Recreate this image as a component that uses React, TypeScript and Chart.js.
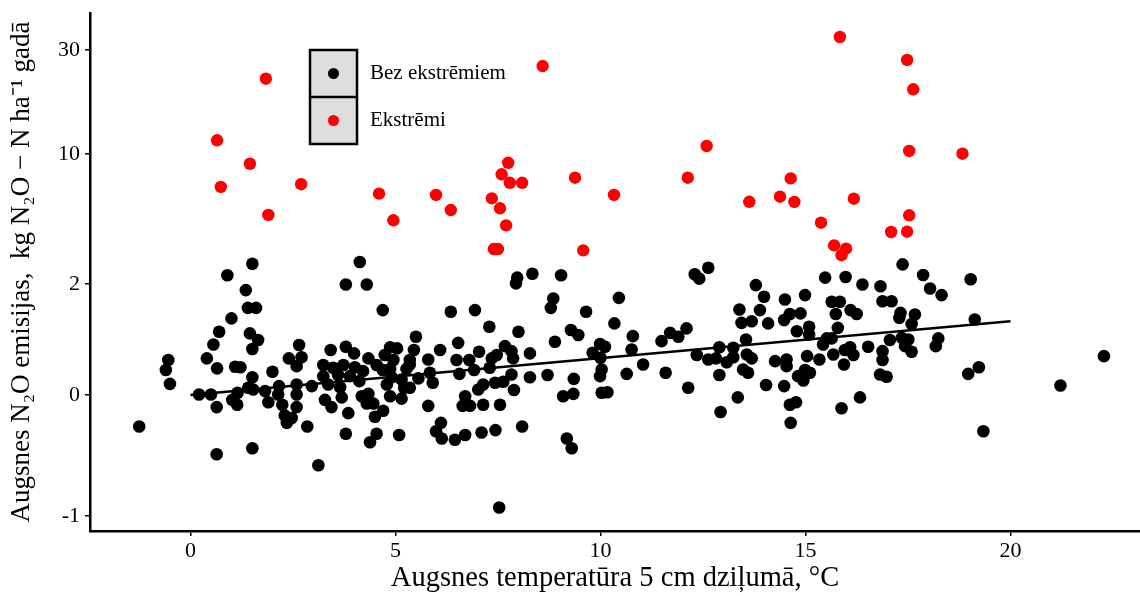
import React, { useEffect, useRef } from "react";
import { Chart, registerables } from "chart.js";

Chart.register(...registerables);

const FONT = '"Liberation Serif", "Times New Roman", serif';

// Soil temperature at 5 cm (°C) for regular observations
const BLACK_TEMP = [
  1.51, 0.90, 1.35, 1.40, 1.60, 1.00, 0.70, 1.45, 1.65, 0.56, 1.51, 2.65, 2.40, 2.71, 2.59, 0.40, -0.54, -0.60, 0.65, 1.09,
  1.22, 2.00, -0.50, 1.51, 0.21, 0.50, 1.15, 1.41, 1.53, 1.82, 2.16, 2.59, 2.96, 1.02, 1.14, 1.90, 2.14, 2.59, 0.64, 2.24,
  2.59, 2.30, 2.35, 2.47, 2.85, -1.25, 0.64, 1.51, 3.12,
  4.13, 3.79, 4.30, 4.69, 6.35, 6.94, 7.29, 5.50, 6.53, 3.42, 3.79, 3.99, 4.87, 5.04, 5.45, 6.09, 7.04, 7.67, 4.34, 4.74,
  4.95, 5.35, 5.80, 6.49, 6.80, 7.35, 7.47, 3.24, 3.48, 3.73, 4.01, 4.21, 4.54, 4.69, 4.87, 5.27, 5.35, 5.84, 6.56, 6.92,
  7.30, 3.24, 3.60, 3.89, 4.12, 4.91, 5.15, 5.56, 5.91, 3.36, 3.65, 4.79, 5.21, 5.35, 7.14, 7.43, 7.63, 7.02, 3.28, 3.69,
  4.18, 4.34, 4.30, 4.46, 4.87, 5.15, 3.44, 5.80, 6.70, 6.64, 6.82, 7.14, 7.55, 3.85, 4.50, 4.70, 3.79, 4.54, 4.38, 5.09,
  6.11, 5.99, 6.13, 6.45, 6.70, 7.10, 7.44, 7.53,
  7.97, 7.94, 8.34, 9.04, 8.85, 8.79, 10.45, 9.65, 10.34, 8.00, 9.28, 9.46, 8.89, 10.79, 11.49, 11.70, 11.90, 12.10, 8.28, 7.83,
  7.87, 9.81, 9.99, 10.11, 10.00, 10.76, 11.04, 7.83, 8.28, 8.71, 9.35, 10.03, 9.99, 10.64, 11.59, 7.89, 9.09, 9.34, 10.03, 10.17,
  12.14, 8.09, 9.18, 9.30, 12.35,
  12.63, 12.30, 12.41, 13.79, 13.99, 14.50, 14.99, 15.48, 15.98, 16.39, 16.83, 16.88, 13.39, 13.89, 13.44, 13.69, 14.09, 14.48, 14.62, 14.88,
  15.64, 15.84, 15.74, 16.10, 16.25, 14.79, 15.09, 15.09, 15.79, 13.55, 15.52, 15.64, 15.43, 17.06, 12.90, 13.24, 12.63, 12.82, 13.08, 13.24,
  13.57, 13.69, 14.26, 14.54, 14.54, 15.04, 15.34, 15.68, 15.94, 15.96, 16.09, 16.17, 16.53, 16.88, 16.88, 12.90, 13.48, 13.60, 14.82, 14.95,
  14.99, 15.11, 16.82, 16.98, 14.04, 14.48, 13.35, 14.62, 14.77, 12.93, 15.88, 16.33, 14.64,
  17.37, 17.87, 18.04, 18.32, 19.03, 17.10, 17.32, 17.29, 17.67, 17.59, 19.13, 17.35, 17.51, 17.43, 17.59, 18.24, 18.18, 18.97, 19.23, 21.22,
  19.34, 22.28,
];

// Annual N2O emission (kg N2O-N ha-1) for regular observations
const BLACK_FLUX = [
  3.25, 2.54, 1.89, 1.57, 1.57, 1.38, 1.14, 1.11, 0.99, 0.91, 0.83, 0.90, 0.66, 0.68, 0.52, 0.66, 0.63, 0.45, 0.48, 0.51,
  0.50, 0.42, 0.20, 0.32, 0.01, 0.01, 0.04, 0.13, 0.10, 0.07, 0.16, 0.19, 0.16, -0.04, -0.08, -0.06, 0.01, 0.01, -0.10, -0.08,
  -0.10, -0.17, -0.23, -0.19, -0.26, -0.26, -0.49, -0.44, -0.58,
  3.35, 1.99, 1.99, 1.53, 1.50, 1.53, 1.23, 1.05, 0.94, 0.81, 0.87, 0.75, 0.86, 0.84, 0.81, 0.81, 0.78, 0.88, 0.66, 0.72,
  0.63, 0.63, 0.64, 0.63, 0.63, 0.66, 0.72, 0.54, 0.49, 0.54, 0.50, 0.43, 0.54, 0.45, 0.47, 0.47, 0.55, 0.40, 0.38, 0.45,
  0.49, 0.34, 0.36, 0.34, 0.25, 0.32, 0.28, 0.30, 0.22, 0.19, 0.14, 0.19, 0.13, 0.13, 0.19, 0.22, 0.24, 0.10, -0.04, -0.02,
  -0.01, 0.02, -0.07, -0.07, -0.01, -0.03, -0.10, -0.09, -0.01, -0.09, -0.09, -0.08, -0.08, -0.15, -0.18, -0.13, -0.32, -0.32, -0.39, -0.33,
  -0.23, -0.30, -0.36, -0.37, -0.33, -0.31, -0.29, -0.93,
  2.39, 2.04, 2.63, 2.54, 1.74, 1.57, 1.75, 1.50, 1.29, 1.14, 1.17, 1.08, 0.96, 1.06, 0.97, 1.12, 1.05, 1.20, 0.75, 0.79,
  0.66, 0.76, 0.92, 0.87, 0.67, 0.82, 0.55, 0.37, 0.32, 0.36, 0.29, 0.46, 0.34, 0.38, 0.40, 0.09, -0.01, 0.02, 0.04, 0.05,
  0.13, -0.26, -0.36, -0.44, 0.72,
  3.00, 2.60, 2.33, 1.98, 1.77, 1.72, 1.80, 2.39, 2.43, 1.99, 1.96, 1.69, 1.54, 1.53, 1.30, 1.33, 1.29, 1.35, 1.46, 1.47,
  1.68, 1.68, 1.46, 1.53, 1.46, 1.15, 1.23, 1.09, 1.21, 1.00, 1.02, 1.02, 0.91, 0.99, 0.86, 0.85, 0.64, 0.66, 0.59, 0.68,
  0.73, 0.66, 0.61, 0.64, 0.52, 0.70, 0.64, 0.73, 0.55, 0.81, 0.86, 0.72, 0.87, 0.79, 0.63, 0.36, 0.46, 0.40, 0.34, 0.26,
  0.45, 0.40, 0.37, 0.33, 0.18, 0.16, -0.02, -0.08, -0.06, -0.14, -0.11, -0.02, -0.23,
  3.21, 2.55, 1.92, 1.80, 2.29, 1.69, 1.48, 1.39, 1.45, 1.28, 1.36, 1.03, 1.00, 0.88, 0.78, 1.02, 0.88, 0.38, 0.50, 0.17,
  -0.30, 0.70,
];

// Extreme observations
const RED_TEMP = [
  1.84, 0.65, 1.45, 0.74, 2.70, 1.90, 4.60, 4.95, 5.99, 6.35, 8.59, 7.75, 7.59, 7.79, 8.09, 9.38, 10.33, 7.35, 7.55, 7.70,
  7.40, 7.50, 9.58, 12.59, 12.13, 15.84, 17.48, 17.63, 17.53, 18.83, 14.64, 14.38, 14.73, 13.63, 16.18, 17.53, 15.38, 17.48, 17.09, 15.70,
  15.99, 15.88,
];
const RED_FLUX = [
  24.48, 12.63, 9.40, 7.97, 8.14, 6.25, 7.56, 5.92, 7.48, 6.55, 26.92, 9.46, 8.75, 8.23, 8.23, 8.54, 7.48, 7.27, 6.66, 5.61,
  4.15, 4.15, 4.07, 11.54, 8.54, 32.50, 28.08, 22.44, 10.58, 10.06, 8.50, 7.37, 7.05, 7.06, 7.25, 6.23, 5.77, 5.22, 5.20, 4.38,
  4.17, 3.77,
];

// Fitted trend for the regular observations
const TREND_TEMP = [0, 20];
const TREND_FLUX = [0, 1.33];

const X_TICKS = [0, 5, 10, 15, 20];
const Y_TICKS = [-1, 0, 2, 10, 30];
// Warped axis: where each labelled flux value sits on the internal linear axis
const Y_TICK_OFFSETS = [-1.21, 0, 1.11, 2.41, 3.45];

const LEGEND_ITEMS = [
  { label: "Bez ekstrēmiem", color: "#000000" },
  { label: "Ekstrēmi", color: "#ff0000" },
];

// Piecewise-linear warp of the flux axis between the labelled breaks
function warp(v: number): number {
  const n = Y_TICKS.length;
  let i = 0;
  if (v >= Y_TICKS[n - 1]) i = n - 2;
  else {
    while (i < n - 2 && v > Y_TICKS[i + 1]) i++;
  }
  const v0 = Y_TICKS[i];
  const v1 = Y_TICKS[i + 1];
  const t0 = Y_TICK_OFFSETS[i];
  const t1 = Y_TICK_OFFSETS[i + 1];
  return t0 + ((v - v0) * (t1 - t0)) / (v1 - v0);
}

const toPoints = (xs: number[], ys: number[]) => xs.map((x, i) => ({ x, y: warp(ys[i]) }));

const legendBox = {
  id: "legendBox",
  afterDraw(chart: any) {
    const ctx = chart.ctx;
    const x = 310;
    const y = 50;
    const w = 47;
    const h = 47;
    ctx.save();
    LEGEND_ITEMS.forEach((item, i) => {
      const top = y + i * h;
      ctx.fillStyle = "#dedede";
      ctx.fillRect(x, top, w, h);
      ctx.beginPath();
      ctx.arc(x + w / 2, top + h / 2, 5.5, 0, Math.PI * 2);
      ctx.fillStyle = item.color;
      ctx.fill();
      ctx.fillStyle = "#000";
      ctx.font = `21px ${FONT}`;
      ctx.textBaseline = "middle";
      ctx.textAlign = "left";
      ctx.fillText(item.label, x + w + 13, top + h / 2);
    });
    ctx.strokeStyle = "#000";
    ctx.lineWidth = 2.5;
    ctx.strokeRect(x, y, w, h * LEGEND_ITEMS.length);
    for (let i = 1; i < LEGEND_ITEMS.length; i++) {
      ctx.beginPath();
      ctx.moveTo(x, y + i * h);
      ctx.lineTo(x + w, y + i * h);
      ctx.stroke();
    }
    ctx.restore();
  },
};

export default function App() {
  const canvasRef = useRef<HTMLCanvasElement | null>(null);

  useEffect(() => {
    const canvas = canvasRef.current;
    if (!canvas) return;

    const axisCommon = {
      border: { display: true, color: "#000", width: 2.5 },
      grid: {
        display: true,
        drawOnChartArea: false,
        drawTicks: true,
        tickLength: 5,
        color: "#000",
        lineWidth: 1.5,
      },
    };

    const chart = new Chart(canvas, {
      type: "scatter",
      data: {
        datasets: [
          {
            label: "Ekstrēmi",
            data: toPoints(RED_TEMP, RED_FLUX),
            backgroundColor: "#ff0000",
            pointRadius: 6.2,
            pointBorderWidth: 0,
            order: 0,
          },
          {
            label: "trend",
            data: toPoints(TREND_TEMP, TREND_FLUX),
            showLine: true,
            borderColor: "#000",
            borderWidth: 2.5,
            pointRadius: 0,
            order: 1,
          },
          {
            label: "Bez ekstrēmiem",
            data: toPoints(BLACK_TEMP, BLACK_FLUX),
            backgroundColor: "#000000",
            pointRadius: 6.3,
            pointBorderWidth: 0,
            order: 2,
          },
        ],
      },
      options: {
        animation: false,
        responsive: false,
        devicePixelRatio: 1,
        layout: { autoPadding: false, padding: { top: 13, right: 0, bottom: 0, left: 0 } },
        plugins: {
          legend: { display: false },
          tooltip: { enabled: false },
        },
        scales: {
          x: {
            type: "linear",
            min: -2.45,
            max: 23.16,
            ...axisCommon,
            afterBuildTicks: (scale: any) => {
              scale.ticks = X_TICKS.map((v) => ({ value: v }));
            },
            afterFit: (scale: any) => {
              scale.height = 65;
              scale.paddingLeft = 0;
              scale.paddingRight = 0;
            },
            ticks: {
              color: "#000",
              padding: 4,
              font: { family: FONT, size: 22, lineHeight: 1 },
              callback: (v: any) => String(v),
            },
            title: {
              display: true,
              text: "Augsnes temperatūra 5 cm dziļumā, °C",
              color: "#000",
              font: { family: FONT, size: 28.5, lineHeight: 1.2 },
              padding: { top: 0, bottom: 0 },
            },
          },
          y: {
            type: "linear",
            min: -1.36,
            max: 3.82,
            ...axisCommon,
            afterBuildTicks: (scale: any) => {
              scale.ticks = Y_TICK_OFFSETS.map((v) => ({ value: v }));
            },
            afterFit: (scale: any) => {
              scale.width = 90;
              scale.paddingTop = 0;
              scale.paddingBottom = 0;
            },
            ticks: {
              color: "#000",
              padding: 5,
              font: { family: FONT, size: 22, lineHeight: 1 },
              callback: (_v: any, index: number) => String(Y_TICKS[index]),
            },
            title: {
              display: true,
              text: "Augsnes N₂O emisijas,  kg N₂O − N ha⁻¹ gadā",
              color: "#000",
              font: { family: FONT, size: 27, lineHeight: 1.2 },
              padding: { top: 6, bottom: 0 },
            },
          },
        },
      },
      plugins: [legendBox],
    } as any);

    return () => chart.destroy();
  }, []);

  return (
    <div
      style={{
        position: "fixed",
        left: 0,
        top: 0,
        width: 1140,
        height: 596,
        background: "#fff",
      }}
    >
      <canvas ref={canvasRef} width={1140} height={596} style={{ display: "block" }} />
    </div>
  );
}
